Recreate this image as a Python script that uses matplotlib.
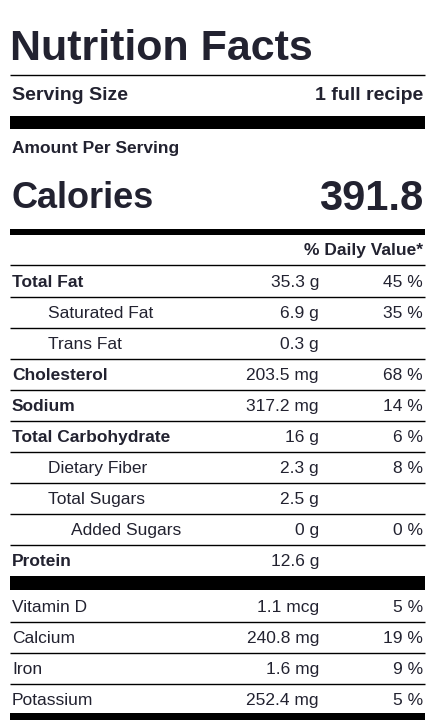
import matplotlib.pyplot as plt

# Label data
serving_size = '1 full recipe'
calories = '391.8'

nutrients = ['Total Fat', 'Saturated Fat', 'Trans Fat', 'Cholesterol', 'Sodium',
             'Total Carbohydrate', 'Dietary Fiber', 'Total Sugars', 'Added Sugars', 'Protein']
amounts = ['35.3 g', '6.9 g', '0.3 g', '203.5 mg', '317.2 mg',
           '16 g', '2.3 g', '2.5 g', '0 g', '12.6 g']
daily_values = ['45 %', '35 %', '', '68 %', '14 %', '6 %', '8 %', '', '0 %', '']
indent_levels = [0, 1, 1, 0, 0, 0, 1, 1, 2, 0]

vitamins = ['Vitamin D', 'Calcium', 'Iron', 'Potassium']
vitamin_amounts = ['1.1 mcg', '240.8 mg', '1.6 mg', '252.4 mg']
vitamin_dv = ['5 %', '19 %', '9 %', '5 %']

plt.rcParams['font.family'] = ['Liberation Sans', 'DejaVu Sans']
ink = '#222230'
fs = 12.5

fig = plt.figure(figsize=(4.35, 7.2), dpi=100)
ax = fig.add_axes([0, 0, 1, 1])
ax.set_xlim(0, 435)
ax.set_ylim(720, 0)
ax.axis('off')

L, R = 10, 425
amt_x = 319
va = 'center_baseline'


def hline(y, lw=1.0):
    ax.plot([L, R], [y, y], color='black', lw=lw, solid_capstyle='butt')


def bar(y0, y1):
    ax.fill_between([L, R], y0, y1, color='black', lw=0)


ax.text(L, 45, 'Nutrition Facts', fontsize=31, fontweight='bold', color=ink, va=va)
hline(75)
ax.text(12, 94, 'Serving Size', fontsize=14, fontweight='bold', color=ink, va=va)
ax.text(423, 94, serving_size, fontsize=14, fontweight='bold', color=ink, va=va, ha='right')
bar(116, 129)
ax.text(12, 147, 'Amount Per Serving', fontsize=12.5, fontweight='bold', color=ink, va=va)
ax.text(12, 195, 'Calories', fontsize=26, fontweight='bold', color=ink, va=va)
ax.text(423, 195, calories, fontsize=30, fontweight='bold', color=ink, va=va, ha='right')
bar(229, 235)
ax.text(423, 249, '% Daily Value*', fontsize=12.5, fontweight='bold', color=ink, va=va, ha='right')
hline(265)

for i, (name, amt, dv, lvl) in enumerate(zip(nutrients, amounts, daily_values, indent_levels)):
    y = 281 + 31 * i
    ax.text(12 + 36 * lvl if lvl < 2 else 71, y, name, fontsize=fs,
            fontweight='bold' if lvl == 0 else 'normal', color=ink, va=va)
    ax.text(amt_x, y, amt, fontsize=fs, color=ink, va=va, ha='right')
    ax.text(423, y, dv, fontsize=fs, color=ink, va=va, ha='right')
    if i < len(nutrients) - 1:
        hline(y + 15.5)

bar(576, 590)

for i, (name, amt, dv) in enumerate(zip(vitamins, vitamin_amounts, vitamin_dv)):
    y = 606 + 31 * i
    ax.text(12, y, name, fontsize=fs, color=ink, va=va)
    ax.text(amt_x, y, amt, fontsize=fs, color=ink, va=va, ha='right')
    ax.text(423, y, dv, fontsize=fs, color=ink, va=va, ha='right')
    if i < len(vitamins) - 1:
        hline(y + 15.5)

bar(713, 720)

fig.savefig('out.png', dpi=100, facecolor='white')
